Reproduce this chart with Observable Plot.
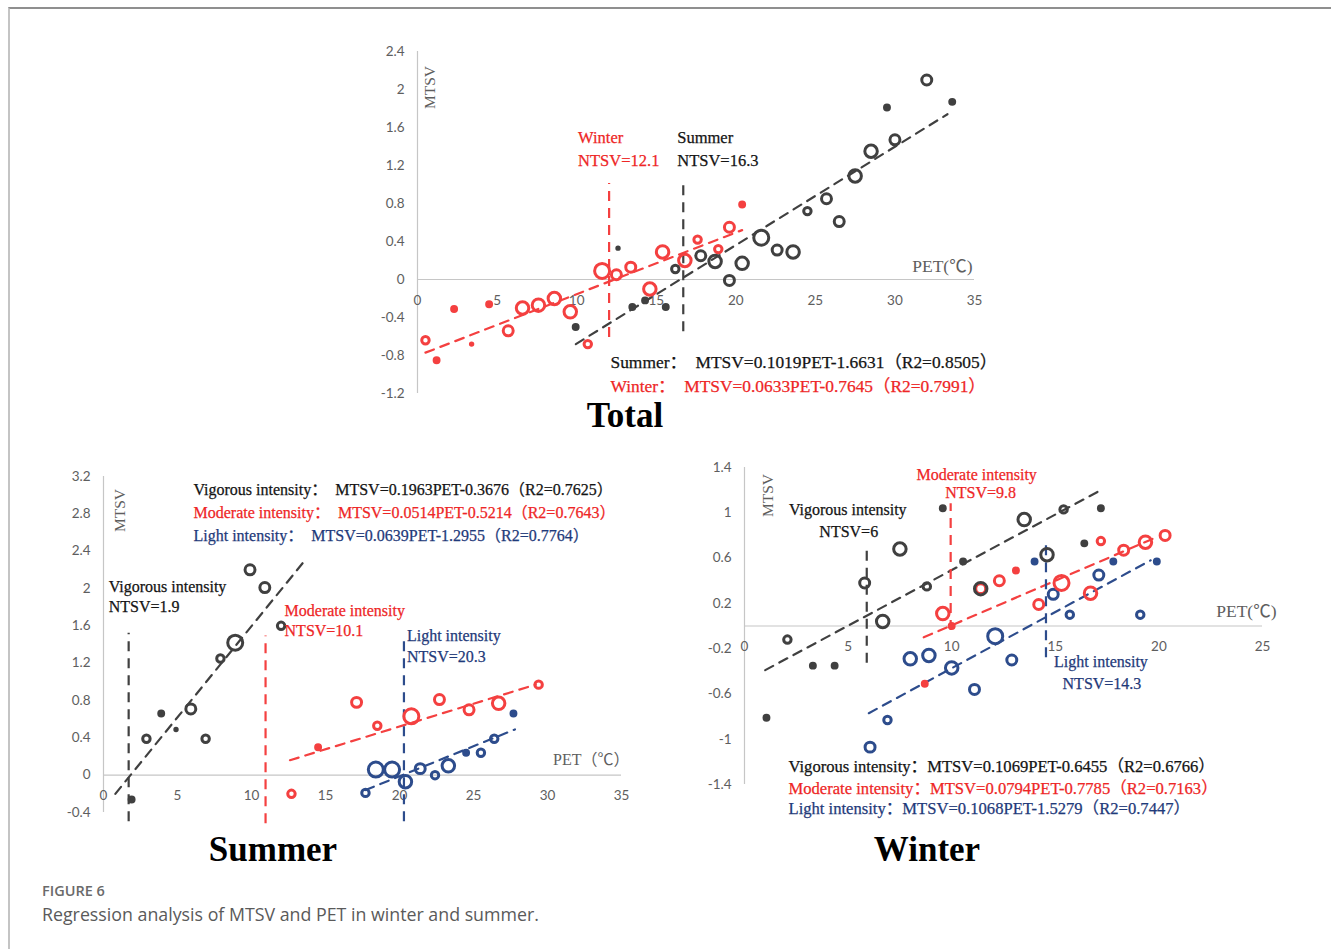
<!DOCTYPE html>
<html><head><meta charset="utf-8">
<script src="https://cdn.jsdelivr.net/npm/d3@7"></script>
<script src="https://cdn.jsdelivr.net/npm/@observablehq/plot@0.6"></script>
<style>
html,body{margin:0;padding:0;background:#fff;}
body{width:1331px;height:949px;position:relative;overflow:hidden;}
#frame{position:absolute;left:8px;top:7px;width:1340px;height:960px;border-top:2px solid #8f8f8f;border-left:2px solid #c4c4c4;}
.panel{position:absolute;}
.panel svg{overflow:visible;background:transparent;}
.title{position:absolute;font-family:"Liberation Serif","Times New Roman",serif;font-weight:bold;font-size:35px;color:#000;transform:translate(-50%,-50%);white-space:nowrap;}
#fig{position:absolute;left:42px;top:881px;font-family:"Open Sans",sans-serif;font-size:14.5px;font-weight:600;color:#6a6a6a;}
#cap{position:absolute;left:42px;top:902px;font-family:"Open Sans",sans-serif;font-size:17.8px;color:#5a5a5a;}
</style></head><body>
<div id="frame"></div>
<div id="total" class="panel"></div>
<div id="summer" class="panel"></div>
<div id="winter" class="panel"></div>
<div class="title" style="left:625px;top:416px">Total</div>
<div class="title" style="left:273px;top:850px">Summer</div>
<div class="title" style="left:927px;top:850px">Winter</div>
<div id="fig">FIGURE 6</div>
<div id="cap">Regression analysis of MTSV and PET in winter and summer.</div>
<script>
// ---------------- DATA ----------------
// Total panel
const totalWinterPET  = [0.5, 1.2, 2.3, 3.4, 4.5, 5.7, 6.6, 7.6, 8.6, 9.6, 10.7, 11.6, 12.5, 13.4, 14.6, 15.4, 16.8, 17.6, 18.9, 19.6, 20.4];
const totalWinterMTSV = [-0.64, -0.85, -0.31, -0.68, -0.26, -0.54, -0.30, -0.27, -0.20, -0.34, -0.68, 0.09, 0.05, 0.13, -0.10, 0.29, 0.20, 0.42, 0.32, 0.55, 0.79];
const totalWinterW    = [3, 2, 2, 1, 2, 4, 5, 5, 5, 5, 3, 6, 4, 4, 5, 5, 5, 3, 3, 4, 2];
const totalSummerPET  = [9.94, 12.6, 13.5, 14.3, 15.6, 16.2, 17.8, 18.7, 19.6, 20.4, 21.6, 22.6, 23.6, 24.5, 25.7, 26.5, 27.5, 28.5, 29.5, 30.0, 32.0, 33.6];
const totalSummerMTSV = [-0.50, 0.33, -0.29, -0.22, -0.29, 0.11, 0.25, 0.19, -0.01, 0.17, 0.44, 0.31, 0.29, 0.72, 0.85, 0.61, 1.09, 1.35, 1.81, 1.47, 2.10, 1.87];
const totalSummerW    = [2, 1, 2, 2, 2, 3, 4, 5, 4, 5, 6, 4, 5, 3, 4, 4, 5, 5, 2, 4, 4, 2];
const totalTrendWinter = {pet: [0.5, 20.4], mtsv: [-0.77, 0.52]};
const totalTrendSummer = {pet: [9.95, 33.3], mtsv: [-0.68, 1.74]};
const totalNTSV = {pet: [12.04, 16.7], top: [1.01, 1.04], bottom: [-0.61, -0.55]};
const totalXTicks = [0, 5, 10, 15, 20, 25, 30, 35];
const totalYTicks = [2.4, 2, 1.6, 1.2, 0.8, 0.4, 0, -0.4, -0.8, -1.2];
const totalEq = ["Summer：  MTSV=0.1019PET-1.6631（R2=0.8505）", "Winter：  MTSV=0.0633PET-0.7645（R2=0.7991）"];

// Summer panel
const sumVigPET  = [1.9, 2.9, 3.9, 4.9, 5.9, 6.9, 7.9, 8.9, 9.9, 10.9, 12.0];
const sumVigMTSV = [-0.26, 0.39, 0.66, 0.49, 0.71, 0.39, 1.25, 1.42, 2.20, 2.01, 1.60];
const sumVigW    = [2, 3, 2, 1, 4, 3, 3, 6, 4, 4, 3];
const sumModPET  = [12.7, 14.5, 17.1, 18.5, 20.8, 22.7, 24.7, 26.7, 29.4];
const sumModMTSV = [-0.20, 0.30, 0.78, 0.53, 0.63, 0.81, 0.70, 0.77, 0.97];
const sumModW    = [3, 2, 4, 3, 6, 4, 4, 5, 3];
const sumLigPET  = [17.7, 18.4, 19.5, 20.4, 21.4, 22.4, 23.3, 24.5, 25.5, 26.4, 27.7];
const sumLigMTSV = [-0.19, 0.06, 0.06, -0.07, 0.07, 0.00, 0.10, 0.24, 0.24, 0.39, 0.66];
const sumLigW    = [3, 6, 6, 5, 4, 3, 5, 2, 3, 3, 2];
const sumTrendVig = {pet: [0.8, 13.5], mtsv: [-0.2, 2.28]};
const sumTrendMod = {pet: [12.6, 29.2], mtsv: [0.16, 0.97]};
const sumTrendLig = {pet: [17.7, 27.8], mtsv: [-0.16, 0.49]};
const sumNTSV = {pet: [1.7, 10.95, 20.3], top: [1.52, 1.49, 1.5], bottom: [-0.5, -0.52, -0.5]};
const sumXTicks = [0, 5, 10, 15, 20, 25, 30, 35];
const sumYTicks = [3.2, 2.8, 2.4, 2, 1.6, 1.2, 0.8, 0.4, 0, -0.4];
const sumEq = ["Vigorous intensity：  MTSV=0.1963PET-0.3676（R2=0.7625）",
               "Moderate intensity：  MTSV=0.0514PET-0.5214（R2=0.7643）",
               "Light intensity：  MTSV=0.0639PET-1.2955（R2=0.7764）"];

// Winter panel
const winVigPET  = [1.06, 2.07, 3.3, 4.35, 5.8, 6.67, 7.5, 8.8, 9.57, 10.55, 11.4, 13.5, 14.6, 15.4, 16.4, 17.2];
const winVigMTSV = [-0.81, -0.12, -0.35, -0.35, 0.38, 0.04, 0.68, 0.35, 1.04, 0.57, 0.33, 0.94, 0.63, 1.03, 0.73, 1.04];
const winVigW    = [2, 3, 2, 2, 4, 5, 5, 3, 2, 2, 5, 5, 5, 3, 2, 2];
const winModPET  = [8.7, 9.57, 10.0, 11.4, 12.3, 13.1, 14.2, 15.3, 16.7, 17.2, 18.3, 19.35, 20.3];
const winModMTSV = [-0.51, 0.11, 0.0, 0.33, 0.40, 0.49, 0.19, 0.38, 0.29, 0.75, 0.67, 0.74, 0.80];
const winModW    = [2, 5, 2, 4, 4, 2, 4, 6, 5, 3, 4, 5, 4];
const winLigPET  = [6.06, 6.9, 8.0, 8.9, 10.0, 11.1, 12.1, 12.9, 14.0, 14.9, 15.7, 17.1, 17.8, 19.1, 19.9];
const winLigMTSV = [-1.07, -0.83, -0.29, -0.26, -0.37, -0.56, -0.09, -0.30, 0.57, 0.28, 0.10, 0.45, 0.57, 0.10, 0.57];
const winLigW    = [4, 3, 5, 5, 5, 4, 6, 4, 2, 4, 3, 4, 2, 3, 2];
const winTrendVig = {pet: [1.0, 17.3], mtsv: [-0.39, 1.21]};
const winTrendMod = {pet: [8.65, 19.7], mtsv: [-0.10, 0.77]};
const winTrendLig = {pet: [6.0, 19.6], mtsv: [-0.77, 0.58]};
const winNTSV = {pet: [5.9, 9.95, 14.55], top: [0.66, 1.08, 0.71], bottom: [-0.33, -0.04, -0.28]};
const winXTicks = [0, 5, 10, 15, 20, 25];
const winYTicks = [1.4, 1, 0.6, 0.2, -0.2, -0.6, -1, -1.4];
const winEq = ["Vigorous intensity：MTSV=0.1069PET-0.6455（R2=0.6766）",
               "Moderate intensity：MTSV=0.0794PET-0.7785（R2=0.7163）",
               "Light intensity：MTSV=0.1068PET-1.5279（R2=0.7447）"];

// ---------------- STYLE ----------------
const SERIF = "'Liberation Serif','Times New Roman','Noto Sans CJK SC',serif";
const SANS = "Lato,'Liberation Sans',sans-serif";
const C_BLACK = "#404040", C_RED = "#f44040", C_BLUE = "#2d4c8c";
const T_BLACK = "#141414", T_RED = "#ee2626", T_BLUE = "#1f3a7a";
const AXIS = "#c6c6c6", TICK = "#5e5e5e";

const zip = (p, m, w) => p.map((v, i) => ({pet: v, mtsv: m[i], w: w[i]}));
const trendRows = t => t.pet.map((v, i) => ({pet: v, mtsv: t.mtsv[i]}));
const ntsvRows = n => n.pet.map((v, i) => ({pet: v, top: n.top[i], bottom: n.bottom[i]}));

function pointMarks(rows, color) {
  return Plot.dot(rows, {x: "pet", y: "mtsv", r: "w", stroke: color, strokeWidth: 3,
    fill: d => d.w <= 2 ? color : "none"});
}
function trendMark(t, color) {
  return Plot.line(trendRows(t), {x: "pet", y: "mtsv", stroke: color, strokeWidth: 2.2, strokeDasharray: "9,7"});
}
function baseMarks(cfg) {
  return [
    Plot.ruleY([0], {stroke: AXIS, strokeWidth: 1.2}),
    Plot.ruleX([cfg.xDomain[0]], {stroke: AXIS, strokeWidth: 1.2}),
    Plot.text(cfg.yTicks, {frameAnchor: "left", y: d => d, text: d => String(d), dx: -13, textAnchor: "end",
      lineAnchor: "middle", fontSize: 13.5, fontFamily: SANS, fill: TICK}),
    Plot.text(cfg.xTicks, {x: d => d, y: 0, text: d => String(d), dy: 21,
      fontSize: 13.5, fontFamily: SANS, fill: TICK}),
    Plot.text(["MTSV"], {frameAnchor: "top-left", dx: cfg.mtsvDx, dy: cfg.mtsvDy, rotate: -90,
      textAnchor: "middle", lineAnchor: "middle",
      fontSize: 15.5, fontFamily: SERIF, fill: TICK}),
    Plot.text([cfg.petLabel], {x: cfg.xDomain[1], y: 0, dx: cfg.petDx, dy: cfg.petDy, textAnchor: "end",
      fontSize: cfg.petFs, fontFamily: SERIF, fill: TICK})
  ];
}
function place(id, cfg, marks) {
  const el = document.getElementById(id);
  el.style.left = cfg.left + "px";
  el.style.top = cfg.top + "px";
  const chart = Plot.plot({
    width: cfg.width, height: cfg.height,
    marginLeft: cfg.mL, marginRight: cfg.mR, marginTop: cfg.mT, marginBottom: cfg.mB,
    x: {domain: cfg.xDomain, axis: null},
    y: {domain: cfg.yDomain, axis: null},
    r: {type: "linear", domain: [1, 6], range: [1.2, 7.5]},
    style: {background: "transparent", overflow: "visible"},
    marks: [...baseMarks(cfg), ...marks]
  });
  el.appendChild(chart);
}
function ntsvMarks(rows, colors) {
  return rows.map((r, i) => Plot.ruleX([r], {x: "pet", y1: "bottom", y2: "top", stroke: colors[i], strokeWidth: 2.2, strokeDasharray: "10,7"}));
}
function label(rows, idx, anchorY, lines, color, opts) {
  return lines.map((s, k) => Plot.text([rows[idx]], {x: "pet", y: anchorY, text: () => s,
    dx: opts.dx[k], dy: opts.dy[k], textAnchor: opts.anchor || "start", lineAnchor: "middle",
    fontSize: opts.fs || 16, fontFamily: SERIF, fill: color, stroke: color, strokeWidth: 0.25}));
}
function equations(eqs, colors, opts) {
  return eqs.map((s, k) => Plot.text([s], {frameAnchor: opts.frame, dx: opts.dx, dy: opts.dy[k],
    textAnchor: "start", lineAnchor: "middle",
    fontSize: opts.fs || 16, fontFamily: SERIF, fill: colors[k], stroke: colors[k], strokeWidth: 0.25}));
}

// ---------------- TOTAL ----------------
{
  const cfg = {left: 360, top: 30, width: 650, height: 420, mL: 57, mR: 36, mT: 21, mB: 57,
    xDomain: [0, 35], yDomain: [-1.2, 2.4], xTicks: totalXTicks, yTicks: totalYTicks,
    mtsvDx: 13, mtsvDy: 36, petLabel: "PET(℃)", petDx: -2, petDy: -13, petFs: 17.5};
  const n = ntsvRows(totalNTSV);
  place("total", cfg, [
    trendMark(totalTrendWinter, C_RED),
    trendMark(totalTrendSummer, C_BLACK),
    ...ntsvMarks(n, [C_RED, C_BLACK]),
    pointMarks(zip(totalWinterPET, totalWinterMTSV, totalWinterW), C_RED),
    pointMarks(zip(totalSummerPET, totalSummerMTSV, totalSummerW), C_BLACK),
    ...label(n, 0, "top", ["Winter", "NTSV=12.1"], T_RED, {dx: [-31, -31], dy: [-46, -23], fs: 16.5}),
    ...label(n, 1, "top", ["Summer", "NTSV=16.3"], T_BLACK, {dx: [-6, -6], dy: [-43, -20], fs: 16.5}),
    ...equations(totalEq, [T_BLACK, T_RED], {frame: "bottom-left", dx: 193, dy: [-31, -7], fs: 17.4})
  ]);
}

// ---------------- SUMMER ----------------
{
  const cfg = {left: 50, top: 460, width: 600, height: 410, mL: 53, mR: 29, mT: 16, mB: 58,
    xDomain: [0, 35], yDomain: [-0.4, 3.2], xTicks: sumXTicks, yTicks: sumYTicks,
    mtsvDx: 17, mtsvDy: 34, petLabel: "PET（℃）", petDx: 8, petDy: -15, petFs: 16};
  const n = ntsvRows(sumNTSV);
  place("summer", cfg, [
    trendMark(sumTrendVig, C_BLACK),
    trendMark(sumTrendMod, C_RED),
    trendMark(sumTrendLig, C_BLUE),
    ...ntsvMarks(n, [C_BLACK, C_RED, C_BLUE]),
    pointMarks(zip(sumVigPET, sumVigMTSV, sumVigW), C_BLACK),
    pointMarks(zip(sumModPET, sumModMTSV, sumModW), C_RED),
    pointMarks(zip(sumLigPET, sumLigMTSV, sumLigW), C_BLUE),
    ...label(n, 0, "top", ["Vigorous intensity", "NTSV=1.9"], T_BLACK, {dx: [-20, -20], dy: [-46, -26]}),
    ...label(n, 1, "top", ["Moderate intensity", "NTSV=10.1"], T_RED, {dx: [19, 19], dy: [-25, -5]}),
    ...label(n, 2, "top", ["Light intensity", "NTSV=20.3"], T_BLUE, {dx: [3, 3], dy: [1, 22]}),
    ...equations(sumEq, [T_BLACK, T_RED, T_BLUE], {frame: "top-left", dx: 90, dy: [13, 36, 59]})
  ]);
}

// ---------------- WINTER ----------------
{
  const cfg = {left: 690, top: 455, width: 620, height: 420, mL: 54, mR: 48, mT: 12, mB: 91,
    xDomain: [0, 25], yDomain: [-1.4, 1.4], xTicks: winXTicks, yTicks: winYTicks,
    mtsvDx: 24, mtsvDy: 28, petLabel: "PET(℃)", petDx: 14, petDy: -15, petFs: 17.5};
  const n = ntsvRows(winNTSV);
  place("winter", cfg, [
    trendMark(winTrendVig, C_BLACK),
    trendMark(winTrendMod, C_RED),
    trendMark(winTrendLig, C_BLUE),
    ...ntsvMarks(n, [C_BLACK, C_RED, C_BLUE]),
    pointMarks(zip(winLigPET, winLigMTSV, winLigW), C_BLUE),
    pointMarks(zip(winModPET, winModMTSV, winModW), C_RED),
    pointMarks(zip(winVigPET, winVigMTSV, winVigW), C_BLACK),
    ...label(n, 0, "top", ["Vigorous intensity", "NTSV=6"], T_BLACK, {anchor: "middle", dx: [-19, -18], dy: [-41, -19]}),
    ...label(n, 1, "top", ["Moderate intensity", "NTSV=9.8"], T_RED, {anchor: "middle", dx: [26, 30], dy: [-29, -11]}),
    ...label(n, 2, "bottom", ["Light intensity", "NTSV=14.3"], T_BLUE, {anchor: "middle", dx: [55, 56], dy: [4, 26]}),
    ...equations(winEq, [T_BLACK, T_RED, T_BLUE], {frame: "bottom-left", dx: 44, dy: [-18, 4, 24], fs: 16.6})
  ]);
}
</script>
</body></html>
